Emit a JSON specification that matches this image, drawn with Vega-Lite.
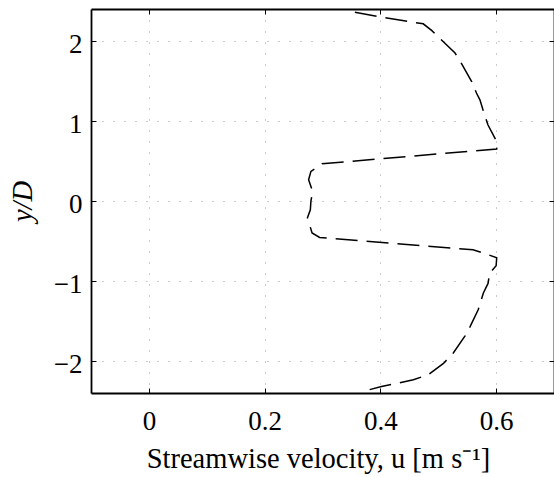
{
  "$schema": "https://vega.github.io/schema/vega-lite/v6.json",
  "width": 463,
  "height": 384,
  "autosize": "none",
  "padding": {"left": 91, "top": 9, "right": 0, "bottom": 84},
  "background": "white",
  "config": {
    "view": {"stroke": null},
    "font": "Liberation Serif",
    "axis": {
      "domainColor": "black",
      "domainWidth": 1.8,
      "tickColor": "black",
      "tickWidth": 1,
      "tickSize": -5,
      "gridColor": "#999999",
      "gridDash": [1, 10],
      "gridWidth": 1,
      "labelFont": "Liberation Serif",
      "labelFontSize": 27,
      "labelColor": "black",
      "titleFont": "Liberation Serif",
      "titleFontSize": 28.5,
      "titleFontWeight": "normal",
      "titleColor": "black"
    }
  },
  "data": {
    "values": [
      {"i": 1, "u": 0.356, "y": 2.36},
      {"i": 2, "u": 0.401, "y": 2.30},
      {"i": 3, "u": 0.474, "y": 2.215},
      {"i": 4, "u": 0.489, "y": 2.13},
      {"i": 5, "u": 0.529, "y": 1.85},
      {"i": 6, "u": 0.540, "y": 1.72},
      {"i": 7, "u": 0.558, "y": 1.49},
      {"i": 8, "u": 0.566, "y": 1.35},
      {"i": 9, "u": 0.572, "y": 1.265},
      {"i": 10, "u": 0.579, "y": 1.10},
      {"i": 11, "u": 0.586, "y": 0.95},
      {"i": 12, "u": 0.602, "y": 0.73},
      {"i": 13, "u": 0.601, "y": 0.65},
      {"i": 14, "u": 0.299, "y": 0.465},
      {"i": 15, "u": 0.280, "y": 0.37},
      {"i": 16, "u": 0.276, "y": 0.265},
      {"i": 17, "u": 0.283, "y": 0.12},
      {"i": 18, "u": 0.280, "y": 0.0},
      {"i": 19, "u": 0.279, "y": -0.11},
      {"i": 20, "u": 0.274, "y": -0.21},
      {"i": 21, "u": 0.282, "y": -0.40},
      {"i": 22, "u": 0.295, "y": -0.456},
      {"i": 23, "u": 0.560, "y": -0.61},
      {"i": 24, "u": 0.578, "y": -0.65},
      {"i": 25, "u": 0.601, "y": -0.71},
      {"i": 26, "u": 0.600, "y": -0.81},
      {"i": 27, "u": 0.589, "y": -0.90},
      {"i": 28, "u": 0.586, "y": -1.03},
      {"i": 29, "u": 0.578, "y": -1.15},
      {"i": 30, "u": 0.569, "y": -1.36},
      {"i": 31, "u": 0.555, "y": -1.57},
      {"i": 32, "u": 0.546, "y": -1.69},
      {"i": 33, "u": 0.526, "y": -1.90},
      {"i": 34, "u": 0.509, "y": -2.03},
      {"i": 35, "u": 0.483, "y": -2.17},
      {"i": 36, "u": 0.457, "y": -2.235},
      {"i": 37, "u": 0.402, "y": -2.32},
      {"i": 38, "u": 0.375, "y": -2.37}
    ]
  },
  "layer": [
    {
      "mark": {"type": "line", "color": "black", "strokeWidth": 1.5, "strokeDash": [22, 9]},
      "encoding": {
        "x": {
          "field": "u", "type": "quantitative",
          "scale": {"domain": [-0.1, 0.7], "nice": false, "zero": false},
          "axis": {"orient": "bottom", "values": [0, 0.2, 0.4, 0.6], "format": "~g", "grid": true, "labelPadding": 20, "title": "Streamwise velocity, u [m s⁻¹]", "titlePadding": 10, "titleX": 227}
        },
        "y": {
          "field": "y", "type": "quantitative",
          "scale": {"domain": [-2.4, 2.4], "nice": false, "zero": false},
          "axis": {"orient": "left", "values": [-2, -1, 0, 1, 2], "format": "~g", "grid": true, "labelPadding": 14, "labelOffset": 3.5, "title": "y/D", "titleFontStyle": "italic", "titlePadding": 16}
        },
        "order": {"field": "i", "type": "quantitative"}
      }
    },
    {
      "mark": {"type": "line", "opacity": 0},
      "encoding": {
        "x": {
          "field": "u", "type": "quantitative",
          "scale": {"domain": [-0.1, 0.7], "nice": false, "zero": false},
          "axis": {"orient": "top", "values": [0, 0.2, 0.4, 0.6], "grid": false, "labels": false, "title": null}
        },
        "y": {
          "field": "y", "type": "quantitative",
          "scale": {"domain": [-2.4, 2.4], "nice": false, "zero": false},
          "axis": {"orient": "right", "values": [-2, -1, 0, 1, 2], "grid": false, "labels": false, "title": null}
        },
        "order": {"field": "i", "type": "quantitative"}
      }
    }
  ],
  "resolve": {"axis": {"x": "independent", "y": "independent"}}
}
